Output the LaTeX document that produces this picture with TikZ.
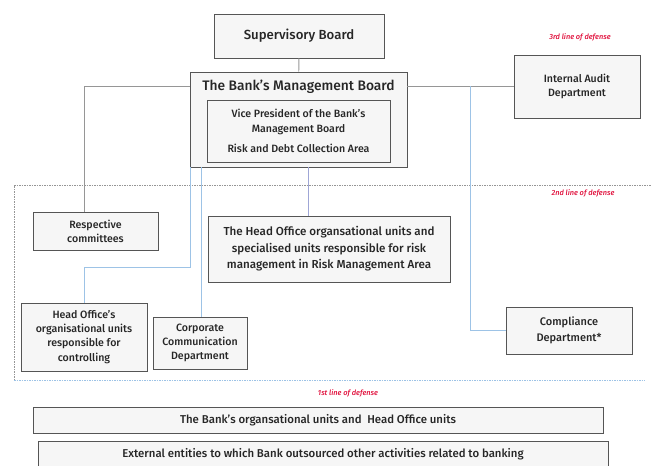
\documentclass[tikz,border=0pt]{standalone}
\usepackage{fontspec}
\setmainfont{Fira Sans}[UprightFont=* Medium, ItalicFont=* Medium Italic]
\usepackage{xcolor}
\usetikzlibrary{shadows}
\definecolor{linegray}{HTML}{969696}
\definecolor{lineblue}{HTML}{9DC3E6}
\definecolor{linelav}{HTML}{9FA6D6}
\definecolor{boxedge}{HTML}{555555}
\definecolor{defred}{HTML}{E0103C}
\tikzset{%
  every unit/.style={
    draw=boxedge,
    fill=gray!7,
    line width=0.9pt,
    align=center,
    inner sep=2pt,
    text=black!85,
    font=\fontsize{10.6}{14.2}\selectfont,
    drop shadow={shadow xshift=1.2pt, shadow yshift=-1.2pt, fill=gray!45}
  },
  wide unit/.style={
    every unit,
    minimum width=570,
    minimum height=26,
    font=\fontsize{11.4}{14}\selectfont
  },
  defense/.style={
    text=defred,
    font=\fontsize{7.4}{9}\selectfont\itshape
  },
  gray link/.style={draw=linegray, line width=0.9pt},
  blue link/.style={draw=lineblue, line width=0.9pt},
}

\begin{document}
\begin{tikzpicture}[x=1pt, y=-1pt]

    \useasboundingbox (0,0) rectangle (651,466);

    % lines of defense
    \draw [linegray, dash pattern=on 1.5pt off 1pt] (14,380) -- (14,185) -- (651,185);
    \draw [lineblue, dash pattern=on 1.5pt off 1pt] (14,380) -- (645,380);

    % 3rd line
    \node [every unit, minimum width=170, minimum height=44,
        font=\fontsize{13.2}{15}\selectfont] (supervisory) at (299,36) {Supervisory Board};
    \node [every unit, minimum width=217, minimum height=95] (management) at (298.5,119.5) {};
    \node [text=black!85, font=\fontsize{13.8}{15}\selectfont] (management-title) at (298.5,87) {The Bank's Management Board};
    \node [every unit, drop shadow={opacity=0}, minimum width=183, minimum height=62] (vice) at (298.5,131)
        {Vice President of the Bank's\\Management Board\\[6pt]Risk and Debt Collection Area};
    \node [every unit, minimum width=126, minimum height=63] (audit) at (577,86.5) {Internal Audit\\Department};

    % 2nd line
    \node [every unit, minimum width=125, minimum height=38] (committees) at (95.5,231) {Respective\\committees};
    \node [every unit, minimum width=242, minimum height=66, font=\fontsize{11.6}{16.5}\selectfont] (risk) at (329,249)
        {The Head Office organsational units and\\specialised units responsible for risk\\management in Risk Management Area};
    \node [every unit, minimum width=126, minimum height=68] (controlling) at (84,337)
        {Head Office's\\organisational units\\responsible for\\controlling};
    \node [every unit, minimum width=94, minimum height=52] (communication) at (200,343)
        {Corporate\\Communication\\Department};
    \node [every unit, minimum width=126, minimum height=47, font=\fontsize{11}{16}\selectfont] (compliance) at (569,330.5)
        {Compliance\\Department*};

    % 1st line
    \node [wide unit] (units) at (318,420)
        {The Bank's organsational units and \ Head Office units};
    \node [wide unit] (external) at (323,454)
        {External entities to which Bank outsourced other activities related to banking};

    \foreach \l/\p [count=\i] in {3rd/{(580,37)}, 2nd/{(583,193)}, 1st/{(348,393)}}
    \node [defense] (defense-\i) at \p {\l\ line of defense};

    % connectors
    \coordinate (tap-left) at (84,86);
    \coordinate (tap-right) at (470,86);
    \coordinate (tap-risk) at (308,0);
    \coordinate (tap-ctrl) at (190,267);

    \draw [gray link] (supervisory) -- (management);
    \draw [gray link] (management.west |- tap-left) -- (tap-left) -- (tap-left |- committees.north);
    \draw [gray link] (management.east |- audit.west) -- (audit.west);
    \draw [blue link] (tap-right) |- (compliance.west);
    \draw [draw=linelav, line width=0.9pt] (management.south -| tap-risk) -- (tap-risk |- risk.north);
    \draw [blue link] (management.south -| tap-ctrl) -- (tap-ctrl) -| (controlling.north);
    \draw [blue link] ([xshift=12pt]management.south west) -- ([xshift=12pt]management.south west |- communication.north);

\end{tikzpicture}
\end{document}
